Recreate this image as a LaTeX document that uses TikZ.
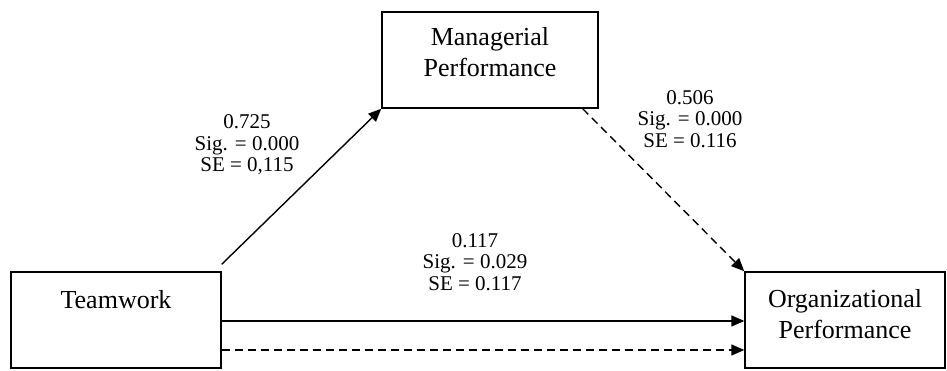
\documentclass[tikz,border=0pt]{standalone}
\usepackage{fontspec}
\setmainfont{Liberation Serif}
\usetikzlibrary{arrows.meta}
\begin{document}
\begin{tikzpicture}[x=1pt,y=1pt,
  box/.style={draw,line width=1.4pt,inner sep=0pt},
  boxtext/.style={align=center,font=\fontsize{26}{31}\selectfont,inner sep=0pt},
  lab/.style={align=center,font=\fontsize{21}{21.5}\selectfont,inner sep=0pt},
  arr/.style={line width=1.4pt,-{Triangle[length=13pt,width=11pt]}},
  dsh/.style={arr,dash pattern=on 8pt off 5pt}]
\useasboundingbox (0,0) rectangle (947,371);
\node[box,minimum width=210pt,minimum height=96pt] (tw) at (116,51) {};
\node[boxtext] (twt) at (116,71) {Teamwork};
\node[box,minimum width=200pt,minimum height=96pt] (op) at (845,51) {};
\node[boxtext] (opt) at (845,57) {Organizational\\Performance};
\node[box,minimum width=216pt,minimum height=96pt] (mp) at (490,311) {};
\node[boxtext] (mpt) at (490,318.5) {Managerial\\Performance};
\draw[arr] ([yshift=-1pt]tw.east) -- ([yshift=-1pt]op.west);
\draw[dsh] ([yshift=-30pt]tw.east) -- ([yshift=-30pt]op.west);
\draw[arr] ([yshift=7pt]tw.north east) -- (mp.south west);
\draw[dsh] ([xshift=-16pt]mp.south east) -- (op.north west);
\node[lab] (l1) at (247,226) {0.725\\Sig. = 0.000\\SE = 0,115};
\node[lab] (l2) at (690,252) {0.506\\Sig. = 0.000\\SE = 0.116};
\node[lab] (l3) at (475,109) {0.117\\Sig. = 0.029\\SE = 0.117};
\end{tikzpicture}
\end{document}
